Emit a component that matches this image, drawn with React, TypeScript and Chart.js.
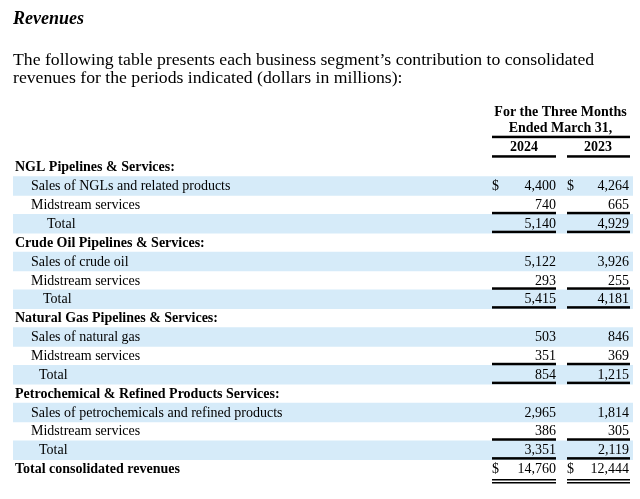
import React, { useEffect, useRef } from "react";
import { Chart, registerables } from "chart.js";

Chart.register(...registerables);

const titleText = "Revenues";
const introLines = [
  "The following table presents each business segment\u2019s contribution to consolidated",
  "revenues for the periods indicated (dollars in millions):",
];
const headerLines = ["For the Three Months", "Ended March 31,"];
const years = ["2024", "2023"];

const rowLabels = [
  "NGL Pipelines & Services:",
  "Sales of NGLs and related products",
  "Midstream services",
  "Total",
  "Crude Oil Pipelines & Services:",
  "Sales of crude oil",
  "Midstream services",
  "Total",
  "Natural Gas Pipelines & Services:",
  "Sales of natural gas",
  "Midstream services",
  "Total",
  "Petrochemical & Refined Products Services:",
  "Sales of petrochemicals and refined products",
  "Midstream services",
  "Total",
  "Total consolidated revenues",
];
const rowKinds = [
  "head", "item", "sub", "total",
  "head", "item", "sub", "total",
  "head", "item", "sub", "total",
  "head", "item", "sub", "total",
  "grand",
];
const values2024 = [null, 4400, 740, 5140, null, 5122, 293, 5415, null, 503, 351, 854, null, 2965, 386, 3351, 14760];
const values2023 = [null, 4264, 665, 4929, null, 3926, 255, 4181, null, 846, 369, 1215, null, 1814, 305, 2119, 12444];
const shadedRows = [false, true, false, true, false, true, false, true, false, true, false, true, false, true, false, true, false];
const dollarRows = [false, true, false, false, false, false, false, false, false, false, false, false, false, false, false, false, true];

const FONT = "'Liberation Serif', 'Times New Roman', serif";
const BAND = "#d6ebf9";

const fmt = (v: number) => v.toLocaleString("en-US");

export default function App() {
  const ref = useRef<HTMLCanvasElement | null>(null);

  useEffect(() => {
    document.body.style.margin = "0";
    const canvas = ref.current;
    if (!canvas) return;

    const totalIndent = [0, 0, 0, 32, 0, 0, 0, 28, 0, 0, 0, 24, 0, 0, 0, 24, 0];
    const LW = 2.5;

    const tablePlugin = {
      id: "tableText",
      afterDatasetsDraw(chart: any) {
        const { ctx, chartArea, scales } = chart;
        const yScale = scales.y;
        const left = chartArea.left;
        const c1L = 492, c1R = 556, c2L = 567, c2R = 629;
        const half = (yScale.getPixelForValue(1) - yScale.getPixelForValue(0)) / 2;
        ctx.save();
        ctx.fillStyle = "#000";
        ctx.strokeStyle = "#000";
        ctx.textBaseline = "middle";

        // column header
        const top = chartArea.top;
        ctx.font = `bold 14px ${FONT}`;
        ctx.textAlign = "center";
        ctx.fillText(headerLines[0], (c1L + c2R) / 2, top - 45.5);
        ctx.fillText(headerLines[1], (c1L + c2R) / 2, top - 29.5);
        ctx.fillRect(c1L, top - 22, c2R - c1L + 1, LW);
        ctx.fillText(years[0], (c1L + c1R) / 2, top - 10.5);
        ctx.fillText(years[1], (c2L + c2R) / 2, top - 10.5);
        ctx.fillRect(c1L, top - LW, c1R - c1L, LW);
        ctx.fillRect(c2L, top - LW, c2R - c2L + 1, LW);

        rowLabels.forEach((label, i) => {
          const y = yScale.getPixelForValue(i);
          const kind = rowKinds[i];
          const bold = kind === "head" || kind === "grand";
          ctx.font = `${bold ? "bold " : ""}14px ${FONT}`;
          ctx.textAlign = "left";
          let x = left + 2;
          if (kind === "item" || kind === "sub") x = left + 18;
          if (kind === "total") x = left + 2 + totalIndent[i];
          ctx.fillText(label, x, y + 0.5);

          ctx.font = `14px ${FONT}`;
          const v1 = values2024[i];
          const v2 = values2023[i];
          if (v1 !== null) {
            ctx.textAlign = "right";
            ctx.fillText(fmt(v1), c1R, y + 0.5);
          }
          if (v2 !== null) {
            ctx.textAlign = "right";
            ctx.fillText(fmt(v2), c2R, y + 0.5);
          }
          if (dollarRows[i]) {
            ctx.textAlign = "left";
            ctx.fillText("$", c1L, y + 0.5);
            ctx.fillText("$", c2L, y + 0.5);
          }
          const bottom = y + half;
          if (kind === "sub" || kind === "total") {
            ctx.fillRect(c1L, bottom - LW, c1R - c1L, LW);
            ctx.fillRect(c2L, bottom - LW, c2R - c2L + 1, LW);
          }
          if (kind === "grand") {
            ctx.fillRect(c1L, bottom + 0.5, c1R - c1L, 1.5);
            ctx.fillRect(c2L, bottom + 0.5, c2R - c2L + 1, 1.5);
            ctx.fillRect(c1L, bottom + 3.5, c1R - c1L, 1.5);
            ctx.fillRect(c2L, bottom + 3.5, c2R - c2L + 1, 1.5);
          }
        });
        ctx.restore();
      },
    };

    const chart = new Chart(canvas, {
      type: "bar",
      data: {
        labels: rowLabels.map((_, i) => String(i)),
        datasets: [
          {
            data: shadedRows.map((s) => (s ? [0, 1] : null)) as any,
            backgroundColor: BAND,
            borderWidth: 0,
            barPercentage: 1,
            categoryPercentage: 1,
          },
        ],
      },
      options: {
        indexAxis: "y",
        responsive: false,
        animation: false,
        devicePixelRatio: 1,
        layout: { padding: { top: 0, left: 13, right: 7, bottom: 20.5 } },
        scales: {
          x: { type: "linear", min: 0, max: 1, display: false },
          y: { type: "category", display: false, offset: true },
        },
        plugins: {
          legend: { display: false },
          tooltip: { enabled: false },
          title: {
            display: true,
            text: titleText,
            align: "start",
            color: "#000",
            font: { family: FONT, size: 18, weight: "bold", style: "italic", lineHeight: 1.2 },
            padding: { top: 8.2, bottom: 0 },
          },
          subtitle: {
            display: true,
            text: introLines,
            align: "start",
            color: "#000",
            font: { family: FONT, size: 17.7, lineHeight: 18 / 17.7 },
            padding: { top: 21.4, bottom: 70.5 },
          },
        },
      },
      plugins: [tablePlugin],
    });
    return () => chart.destroy();
  }, []);

  return (
    <div style={{ width: 640, height: 499, background: "#fff" }}>
      <canvas ref={ref} width={640} height={499} />
    </div>
  );
}
